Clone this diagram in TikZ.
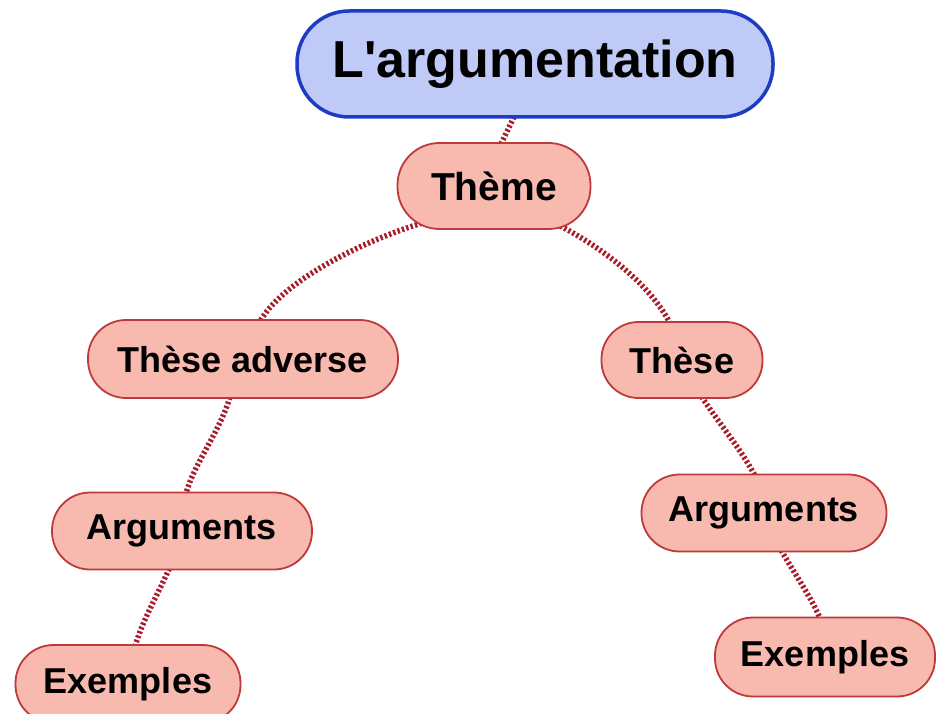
\documentclass[tikz,border=0pt]{standalone}
\usepackage{fontspec}
\setmainfont{Liberation Sans}
\usetikzlibrary{backgrounds}
\definecolor{rootfill}{HTML}{BFCBF6}
\definecolor{rootdraw}{HTML}{1C3CC4}
\definecolor{nodefill}{HTML}{F8B9AF}
\definecolor{nodedraw}{HTML}{BE3A3A}
\definecolor{linkcol}{HTML}{A81E2C}
\begin{document}
\begin{tikzpicture}[x=1pt,y=-1pt,
  rootbox/.style={draw=rootdraw,fill=rootfill,line width=3.5pt,rounded corners=52pt,
    minimum width=476pt,minimum height=106pt,inner sep=0pt,
    font=\fontsize{52}{60}\selectfont\bfseries},
  topicbox/.style={draw=nodedraw,fill=nodefill,line width=1.8pt,inner sep=0pt,
    font=\fontsize{36}{42}\selectfont\bfseries},
  link/.style={draw=linkcol,line width=5.5pt,dash pattern=on 2.4pt off 2.2pt}]
\useasboundingbox (0,0) rectangle (940,714);
\node[rootbox] (root) at (535,64) {L\textquotesingle argumentation};
\node[topicbox,minimum width=193pt,minimum height=86pt,rounded corners=42pt,
  font=\fontsize{39}{45}\selectfont\bfseries] (theme) at (494,186) {Thème};
\node[topicbox,minimum width=310pt,minimum height=78pt,rounded corners=38pt] (tadv) at (243,359) {Thèse adverse};
\node[topicbox,minimum width=161pt,minimum height=76pt,rounded corners=37pt] (these) at (682,360) {Thèse};
\node[topicbox,minimum width=260pt,minimum height=77pt,rounded corners=38pt] (argl) at (182,531) {Arguments};
\node[topicbox,minimum width=225pt,minimum height=78pt,rounded corners=38pt] (exl) at (128,684) {Exemples};
\node[topicbox,minimum width=245pt,minimum height=77pt,rounded corners=38pt] (argr) at (764,513) {Arguments};
\node[topicbox,minimum width=220pt,minimum height=79pt,rounded corners=38pt] (exr) at (825,657) {Exemples};
\begin{scope}[on background layer]
\draw[link] ([xshift=-19pt,yshift=6pt]root.south) -- ([xshift=5pt,yshift=-6pt]theme.north);
\draw[link] ([xshift=-68pt,yshift=8pt]theme.south) .. controls (370,238) and (280,280) .. ([xshift=15pt,yshift=-6pt]tadv.north);
\draw[link] ([xshift=58pt,yshift=8pt]theme.south) .. controls (600,245) and (652,285) .. ([xshift=-10pt,yshift=-6pt]these.north);
\draw[link] ([xshift=-12pt,yshift=6pt]tadv.south) .. controls (222,430) and (192,465) .. ([xshift=3pt,yshift=-6pt]argl.north);
\draw[link] ([xshift=-11pt,yshift=6pt]argl.south) .. controls (158,595) and (142,620) .. ([xshift=6pt,yshift=-6pt]exl.north);
\draw[link] ([xshift=17pt,yshift=6pt]these.south) .. controls (720,425) and (742,450) .. ([xshift=-7pt,yshift=-6pt]argr.north);
\draw[link] ([xshift=15pt,yshift=6pt]argr.south) .. controls (795,575) and (812,598) .. ([xshift=-3pt,yshift=-6pt]exr.north);
\end{scope}
\end{tikzpicture}
\end{document}
